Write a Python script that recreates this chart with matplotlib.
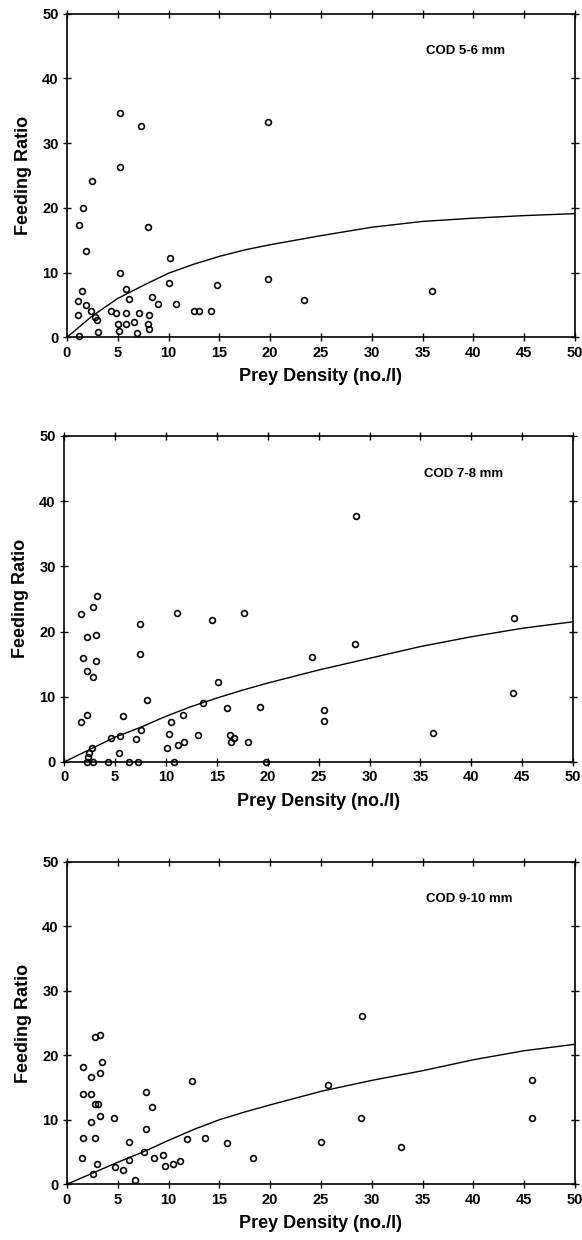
import matplotlib.pyplot as plt

plt.rcParams['font.family'] = ['Liberation Sans', 'DejaVu Sans']
plt.rcParams['font.weight'] = 'bold'

# COD 5-6 mm
x_56 = [5.27, 7.28, 5.27, 2.46, 1.62, 1.23, 1.88, 7.93, 10.1, 5.24, 10.06, 14.76,
        19.74, 19.77, 1.52, 1.1, 5.86, 6.15, 8.41, 8.93, 10.71, 1.88, 2.33, 1.1,
        2.75, 2.94, 4.34, 4.79, 5.83, 7.06, 8.03, 12.5, 13.0, 14.14, 5.05, 5.83,
        6.63, 8.0, 8.03, 5.11, 3.07, 6.86, 1.23, 23.3, 35.9]
y_56 = [34.6, 32.6, 26.3, 24.2, 20.0, 17.4, 13.3, 17.1, 12.2, 10.0, 8.35, 8.1,
        9.0, 33.3, 7.1, 5.6, 7.4, 5.9, 6.3, 5.1, 5.1, 5.05, 4.0, 3.4,
        3.2, 2.6, 4.1, 3.8, 3.7, 3.7, 3.4, 4.1, 4.1, 4.1, 2.1, 2.1,
        2.3, 2.1, 1.3, 1.0, 0.8, 0.6, 0.15, 5.7, 7.1]

# COD 7-8 mm
x_78 = [1.69, 2.83, 3.22, 2.28, 3.12, 1.89, 3.12, 2.28, 2.83, 1.69, 2.28, 7.48,
        7.48, 11.12, 14.57, 17.72, 15.09, 8.1, 13.66, 16.0, 19.25, 5.76, 10.47,
        11.67, 5.53, 4.59, 7.51, 7.02, 10.31, 13.14, 16.26, 16.68, 16.42, 18.11,
        11.8, 11.22, 10.11, 5.43, 2.73, 2.44, 2.34, 2.24, 2.83, 4.29, 6.34, 7.22,
        10.8, 19.84, 28.65, 24.3, 28.6, 25.5, 25.5, 36.2, 44.2, 44.1]
y_78 = [22.65, 23.7, 25.5, 19.2, 19.4, 16.0, 15.5, 14.0, 13.0, 6.2, 7.2, 21.2,
        16.5, 22.9, 21.8, 22.8, 12.2, 9.5, 9.0, 8.2, 8.5, 7.0, 6.1,
        7.2, 4.0, 3.6, 4.9, 3.5, 4.3, 4.1, 4.2, 3.6, 3.0, 3.0,
        3.1, 2.6, 2.2, 1.4, 2.1, 1.4, 0.7, 0.0, 0.0, 0.0, 0.0, 0.0,
        0.0, 0.0, 37.7, 16.1, 18.1, 7.9, 6.3, 4.5, 22.0, 10.5]

# COD 9-10 mm
x_910 = [1.63, 2.32, 1.63, 2.32, 2.75, 3.24, 3.46, 3.24, 2.78, 3.04, 2.32, 3.24,
         4.64, 1.63, 2.78, 1.5, 2.97, 2.55, 4.74, 5.56, 6.08, 6.08, 6.67, 7.58,
         7.75, 7.75, 8.4, 8.56, 9.41, 9.7, 10.39, 11.14, 11.86, 12.32, 13.59,
         15.78, 18.33, 29.0, 25.7, 28.9, 25.0, 32.9, 45.8, 45.8]
y_910 = [18.1, 16.6, 14.0, 14.0, 22.9, 23.2, 18.9, 17.3, 12.5, 12.5, 9.7, 10.6,
         10.3, 7.1, 7.1, 4.1, 3.2, 1.65, 2.7, 2.2, 6.5, 3.8, 0.6, 5.0,
         14.3, 8.5, 11.9, 4.1, 4.6, 2.8, 3.2, 3.6, 7.0, 16.0, 7.1,
         6.4, 4.1, 26.1, 15.4, 10.2, 6.6, 5.7, 16.1, 10.3]

# fitted curves
curve_x = [0, 2.5, 5, 7.5, 10, 12.5, 15, 17.5, 20, 25, 30, 35, 40, 45, 50]
curve_56 = [0, 3.3, 6.0, 8.0, 9.9, 11.3, 12.5, 13.5, 14.3, 15.7, 17.0, 17.9, 18.4, 18.8, 19.1]
curve_78 = [0, 1.9, 3.8, 5.3, 7.0, 8.5, 9.8, 11.0, 12.1, 14.1, 15.9, 17.7, 19.2, 20.5, 21.5]
curve_910 = [0, 1.7, 3.4, 5.0, 6.8, 8.5, 10.0, 11.2, 12.3, 14.4, 16.1, 17.6, 19.3, 20.7, 21.7]

labels = ['COD 5-6 mm', 'COD 7-8 mm', 'COD 9-10 mm']

fig = plt.figure(figsize=(5.82, 12.4), dpi=100)
boxes = [[0.115, 0.728, 0.873, 0.261],
         [0.110, 0.3855, 0.875, 0.263],
         [0.115, 0.045, 0.873, 0.260]]
panels = [(x_56, y_56, curve_56), (x_78, y_78, curve_78), (x_910, y_910, curve_910)]

for box, (xs, ys, cy), lab in zip(boxes, panels, labels):
    ax = fig.add_axes(box)
    ax.plot(curve_x, cy, color='black', lw=1.0)
    ax.plot(xs, ys, 'o', mfc='none', mec='black', ms=4.2, mew=1.2, clip_on=False)
    ax.set_xlim(0, 50)
    ax.set_ylim(0, 50)
    ax.set_xticks(range(0, 51, 5))
    ax.set_yticks(range(0, 51, 10))
    ax.tick_params(direction='inout', length=6, width=1.0, top=True, right=True,
                   labelsize=10.5, pad=3)
    for t in ax.get_xticklabels() + ax.get_yticklabels():
        t.set_fontweight('bold')
    for s in ax.spines.values():
        s.set_linewidth(1.2)
    ax.set_xlabel('Prey Density (no./l)', fontsize=13, fontweight='bold', labelpad=6)
    ax.set_ylabel('Feeding Ratio', fontsize=13, fontweight='bold', labelpad=7)
    ax.text(35.3, 44.2, lab, fontsize=9.5, fontweight='bold', va='center')

fig.savefig('out.png', dpi=100)
